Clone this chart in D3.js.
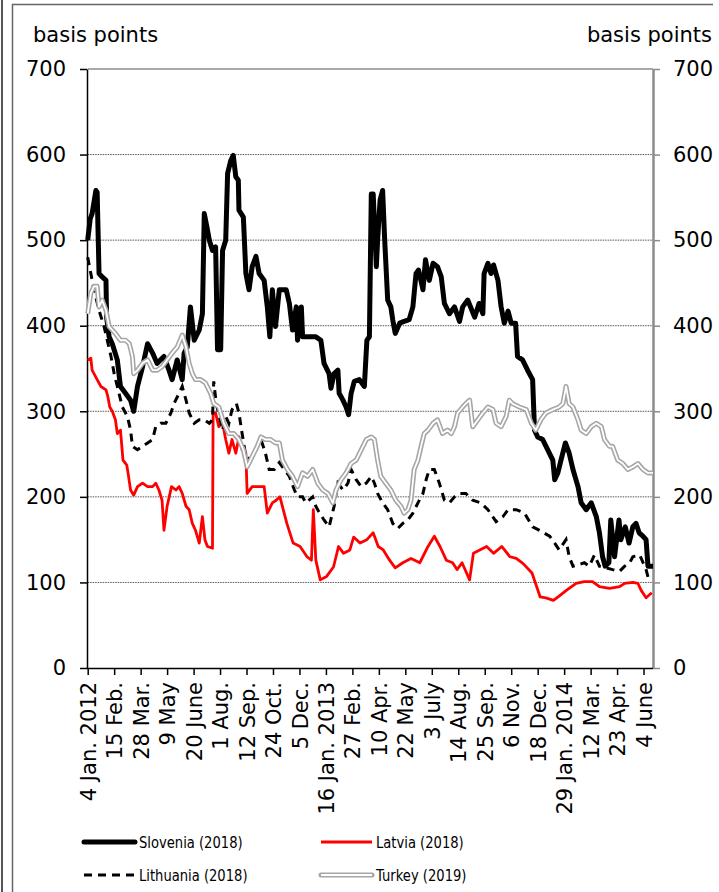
<!DOCTYPE html>
<html><head><meta charset="utf-8">
<script src="https://cdn.jsdelivr.net/npm/d3@7/dist/d3.min.js"></script>
<style>body{margin:0;background:#fff}svg{display:block}</style>
</head><body>
<script>
// ---------- data ----------
const startDate = new Date(2012, 0, 4);
const endDay = 897; // days after 4 Jan 2012 where the plot area ends
const tickLabels = ["4 Jan. 2012","15 Feb.","28 Mar.","9 May","20 June","1 Aug.","12 Sep.","24 Oct.","5 Dec.","16 Jan. 2013","27 Feb.","10 Apr.","22 May","3 July","14 Aug.","25 Sep.","6 Nov.","18 Dec.","29 Jan. 2014","12 Mar.","23 Apr.","4 June"];
const tickStepDays = 42;
const yTicks = [0,100,200,300,400,500,600,700];
const seriesNames = ["Slovenia (2018)","Latvia (2018)","Lithuania (2018)","Turkey (2019)"];

// days since 4 Jan 2012 and spread in basis points
const sloveniaDays = [0,4,7,13,15,18,23,29,30,34,39,47,52,60,68,73,79,87,95,103,110,121,129,134,142,150,153,158,163,169,177,182,185,189,193,198,203,206,211,214,219,222,227,231,235,239,240,247,251,256,261,267,272,280,285,289,293,298,304,309,315,320,325,331,333,339,341,352,362,370,375,383,386,391,397,399,405,410,414,418,423,431,439,443,447,450,453,458,460,464,468,471,476,481,484,488,495,502,510,516,521,525,532,536,542,548,555,561,566,574,582,590,595,603,614,621,627,629,635,640,644,651,656,661,667,672,679,682,690,698,706,709,714,722,730,738,741,746,751,758,764,770,778,783,791,799,807,812,817,821,827,830,836,843,846,853,859,865,870,875,881,886,889,897];
const sloveniaValues = [500,525,531,558,556,461,457,453,410,387,379,360,329,321,313,300,329,352,379,368,356,364,348,337,360,337,368,375,422,383,395,414,531,516,500,488,492,372,372,488,500,578,593,599,574,570,535,527,461,442,469,481,461,453,422,387,442,399,442,442,442,426,395,422,383,422,387,387,387,383,356,344,327,344,348,321,313,305,296,321,335,337,329,383,387,554,554,469,500,547,558,504,430,422,407,391,403,405,407,422,461,465,442,477,453,473,469,457,426,414,422,405,422,430,410,426,414,461,473,461,471,453,422,403,417,403,403,364,360,348,337,278,270,267,255,243,220,228,243,263,251,232,212,193,185,193,177,158,130,119,123,173,130,173,150,165,146,165,169,158,154,150,119,119];

const latviaDays = [0,5,7,15,21,29,32,35,39,44,47,52,56,62,64,68,73,79,87,95,103,108,113,118,121,126,133,140,145,150,156,161,166,171,177,182,186,190,198,199,203,208,214,219,224,229,235,240,245,251,253,261,272,280,285,293,299,305,316,326,337,348,355,358,362,369,379,390,398,406,416,422,432,443,453,461,469,479,488,500,513,527,540,550,559,569,579,586,594,606,612,633,644,657,670,680,691,705,718,727,739,748,760,775,788,801,812,828,844,852,865,873,878,886,895];
const latviaValues = [360,362,348,337,329,325,317,305,300,290,274,278,243,237,228,208,202,212,216,212,212,216,208,196,161,189,212,208,212,204,189,185,169,161,146,177,150,142,140,298,298,282,286,267,251,267,251,270,255,251,204,212,212,212,181,193,196,200,169,146,142,130,126,185,126,103,107,118,142,134,138,153,146,150,158,142,138,126,117,123,128,123,142,154,142,126,123,115,123,103,134,142,134,142,130,128,122,111,83,82,79,84,91,99,101,101,95,93,95,99,100,99,91,82,88];

const lithuaniaDays = [0,5,10,18,26,31,37,42,47,55,63,68,71,79,87,95,103,108,116,124,132,137,145,150,156,161,169,177,185,193,198,200,204,214,219,224,229,236,240,245,251,259,267,275,282,288,296,304,312,320,328,333,341,346,357,362,368,375,383,391,397,405,413,418,426,434,442,450,455,460,468,476,484,492,500,508,516,524,532,537,542,550,558,566,574,582,590,600,611,624,635,648,659,667,680,693,706,719,733,741,748,759,764,770,780,788,796,804,812,823,833,844,852,860,865,876,886,891];
const lithuaniaValues = [480,461,442,418,399,383,364,344,329,305,294,278,259,255,259,263,267,282,286,286,298,309,321,329,313,298,286,290,290,286,290,335,309,278,294,286,302,309,298,274,247,243,255,267,251,232,232,240,232,224,208,200,200,193,200,189,181,173,165,189,216,208,216,232,220,212,216,224,216,204,193,185,169,163,169,173,181,193,204,220,232,232,216,196,193,200,204,204,196,193,185,171,177,185,185,181,165,160,154,146,138,150,130,119,121,123,119,132,119,117,115,113,119,123,130,132,115,101];

const turkeyDays = [0,5,10,15,18,23,29,34,39,44,52,60,66,71,73,79,87,95,103,110,118,126,134,142,150,156,161,166,171,179,187,195,200,208,216,224,232,240,247,253,261,269,275,282,290,298,304,309,317,325,333,341,349,357,365,373,381,389,394,402,410,418,426,434,442,450,455,460,465,473,481,489,497,502,508,513,518,524,529,534,540,548,555,563,571,577,582,587,595,600,606,611,619,627,635,643,648,656,664,669,674,685,696,704,711,719,727,738,748,754,759,764,770,778,783,791,799,807,815,820,828,833,841,849,857,865,873,881,889,897];
const turkeyValues = [414,438,446,446,422,430,418,399,395,391,383,383,379,364,344,348,356,360,348,348,352,360,368,375,389,375,356,344,337,337,333,321,309,305,286,274,274,267,255,235,247,259,270,267,267,263,263,243,232,224,212,228,224,232,216,208,204,193,208,220,228,239,243,255,267,270,267,243,224,216,208,196,189,181,185,196,232,243,259,274,278,286,290,274,278,274,282,298,305,309,313,282,290,298,305,302,286,282,294,313,309,305,302,286,278,290,298,302,305,309,329,309,305,290,278,274,282,286,282,267,259,259,243,239,232,235,239,232,228,228];

// ---------- drawing ----------
const W = 719, H = 892;
const L = 87.7, R = 653, T = 69, B = 668;
const font = "'DejaVu Sans', Verdana, sans-serif";
const legendFont = "'DejaVu Sans', sans-serif";

const svg = d3.select("body").append("svg").attr("width", W).attr("height", H);

// outer frame
svg.append("line").attr("x1", 2).attr("x2", 2).attr("y1", 0).attr("y2", H).attr("stroke", "#555").attr("stroke-width", 2);
svg.append("path").attr("d", `M12.5,${H} V4.5 H713`).attr("fill", "none").attr("stroke", "#666").attr("stroke-width", 1.5);

const x = d3.scaleTime().domain([startDate, d3.timeDay.offset(startDate, endDay)]).range([L, R]);
const y = d3.scaleLinear().domain([0, 700]).range([B, T]);

// gridlines
svg.append("g").selectAll("line").data(yTicks.filter(v => v > 0 && v < 700)).join("line")
  .attr("x1", L).attr("x2", R).attr("y1", d => y(d)).attr("y2", d => y(d))
  .attr("stroke", "#555").attr("stroke-width", 1).attr("stroke-dasharray", "1.5,1");
// top border
svg.append("line").attr("x1", L).attr("x2", R).attr("y1", y(700)).attr("y2", y(700)).attr("stroke", "#8c8c8c").attr("stroke-width", 1.5);

// axes
const gl = svg.append("g").attr("transform", `translate(${L - 0.7},0)`)
  .call(d3.axisLeft(y).tickValues(yTicks).tickSize(7).tickSizeOuter(0).tickPadding(14).tickFormat(d3.format("d")));
gl.selectAll("path,line").attr("stroke", "#000").attr("stroke-width", 1.5);
gl.selectAll("text").attr("font-family", font).attr("font-size", 21).attr("fill", "#000");

const gr = svg.append("g").attr("transform", `translate(${R},0)`)
  .call(d3.axisRight(y).tickValues(yTicks).tickSize(7).tickSizeOuter(0).tickPadding(13).tickFormat(d3.format("d")));
gr.selectAll("path").attr("stroke", "#8c8c8c").attr("stroke-width", 2.5);
gr.selectAll("line").attr("stroke", "#8c8c8c").attr("stroke-width", 1.5);
gr.selectAll("text").attr("font-family", font).attr("font-size", 21).attr("fill", "#000");

const tickDates = tickLabels.map((_, i) => d3.timeDay.offset(startDate, i * tickStepDays));
const gb = svg.append("g").attr("transform", `translate(0,${B})`)
  .call(d3.axisBottom(x).tickValues(tickDates).tickSize(7).tickSizeOuter(0).tickFormat((d, i) => tickLabels[i]));
gb.select("path").attr("d", `M${L - 1},0.5H${R}`);
gb.selectAll("path,line").attr("stroke", "#000").attr("stroke-width", 1.5);
gb.selectAll("text").attr("font-family", font).attr("font-size", 21).attr("fill", "#000")
  .attr("transform", "rotate(-90)").attr("x", -14).attr("y", 0).attr("dy", "0.36em").attr("text-anchor", "end");

// axis titles
svg.append("text").attr("x", 33).attr("y", 42).attr("font-family", font).attr("font-size", 21).text("basis points");
svg.append("text").attr("x", 712).attr("y", 42).attr("text-anchor", "end").attr("font-family", font).attr("font-size", 21).text("basis points");

// series
const mk = (days, vals) => days.map((d, i) => ({ date: d3.timeDay.offset(startDate, d), v: vals[i] }));
const line = d3.line().x(d => x(d.date)).y(d => y(d.v));
const plot = svg.append("g");

plot.append("path").datum(mk(sloveniaDays, sloveniaValues)).attr("d", line)
  .attr("fill", "none").attr("stroke", "#000").attr("stroke-width", 5).attr("stroke-linejoin", "round");
plot.append("path").datum(mk(latviaDays, latviaValues)).attr("d", line)
  .attr("fill", "none").attr("stroke", "#ff0000").attr("stroke-width", 2.8).attr("stroke-linejoin", "round");
plot.append("path").datum(mk(lithuaniaDays, lithuaniaValues)).attr("d", line)
  .attr("fill", "none").attr("stroke", "#000").attr("stroke-width", 3).attr("stroke-dasharray", "8,6");
const tk = mk(turkeyDays, turkeyValues);
plot.append("path").datum(tk).attr("d", line)
  .attr("fill", "none").attr("stroke", "#a6a6a6").attr("stroke-width", 5).attr("stroke-linejoin", "round");
plot.append("path").datum(tk).attr("d", line)
  .attr("fill", "none").attr("stroke", "#fff").attr("stroke-width", 1.8).attr("stroke-linejoin", "round");

// legend
const leg = [
  { name: seriesNames[0], x: 84, y: 842, style: "slo" },
  { name: seriesNames[1], x: 321, y: 842, style: "lat" },
  { name: seriesNames[2], x: 84, y: 875, style: "lit" },
  { name: seriesNames[3], x: 321, y: 875, style: "tur" }
];
leg.forEach(l => {
  const g = svg.append("g");
  const seg = () => g.append("line").attr("x1", l.x).attr("x2", l.x + 51).attr("y1", l.y).attr("y2", l.y).attr("fill", "none");
  if (l.style === "slo") seg().attr("stroke", "#000").attr("stroke-width", 5).attr("stroke-linecap", "round");
  if (l.style === "lat") seg().attr("stroke", "#ff0000").attr("stroke-width", 2.8);
  if (l.style === "lit") seg().attr("stroke", "#000").attr("stroke-width", 3).attr("stroke-dasharray", "8,6");
  if (l.style === "tur") { seg().attr("stroke", "#a6a6a6").attr("stroke-width", 5).attr("stroke-linecap", "round"); seg().attr("stroke", "#fff").attr("stroke-width", 1.8); }
  g.append("text").attr("transform", `translate(${l.x + 55},${l.y + 6}) scale(0.82,1)`)
    .attr("font-family", legendFont).attr("font-size", 16).text(l.name);
});
</script>
</body></html>
